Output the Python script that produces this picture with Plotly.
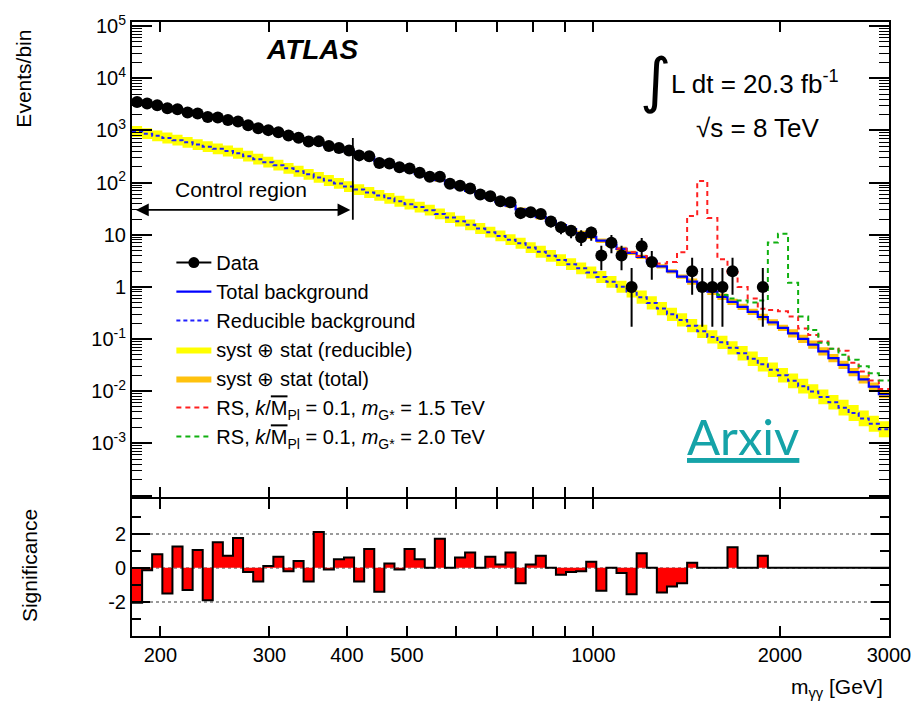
import numpy as np
import plotly.graph_objects as go

# ---------------- data ----------------
BIN_EDGES = [180.0, 186.9, 194.0, 201.5, 209.2, 217.2, 225.5, 234.1, 243.0, 252.3,
             262.0, 272.0, 282.4, 293.2, 304.4, 316.0, 328.1, 340.6, 353.6, 367.2,
             381.2, 395.8, 410.9, 426.6, 442.9, 459.8, 477.4, 495.6, 514.6, 534.3,
             554.7, 575.9, 597.9, 620.7, 644.5, 669.1, 694.7, 721.2, 748.8, 777.4,
             807.1, 838.0, 870.0, 903.3, 937.8, 973.6, 1010.8, 1049.4, 1089.6, 1131.2,
             1174.4, 1219.3, 1265.9, 1314.3, 1364.5, 1416.7, 1470.8, 1527.0, 1585.4, 1646.0,
             1708.9, 1774.2, 1842.0, 1912.4, 1985.5, 2061.4, 2140.2, 2222.0, 2306.9, 2395.1,
             2486.6, 2581.6, 2680.3, 2782.8, 2889.1, 3000.0]

DATA_COUNTS = [3507, 3295, 3057, 2663, 2562, 2213, 2118, 1805, 1780, 1595,
               1492, 1265, 1108, 1015, 922, 798, 727, 617, 618, 504,
               462, 413, 333, 321, 239, 232, 197, 186, 155, 129,
               129, 95, 87, 77, 59, 55, 44, 42, 26, 27,
               25, 18, 14, 12, 9, 11, 4, 7, 4, 1,
               6, 3, 0, 0, 0, 2, 1, 1, 1, 2,
               0, 0, 1, 0, 0, 0, 0, 0, 0, 0,
               0, 0, 0, 0, 0]

TOTAL_BKG = [3631, 3304, 3013, 2742, 2500, 2275, 2070, 1888, 1718, 1567,
             1426, 1274, 1135, 1012, 902, 804, 716, 637, 568, 506,
             451, 401, 348, 302, 262, 228, 198, 172, 149, 129,
             111, 94.8, 81.3, 69.5, 59.3, 50.4, 42.7, 36.2, 30.8, 25.9,
             21.7, 18.3, 15.3, 12.9, 10.8, 9.12, 7.69, 6.43, 5.38, 4.50,
             3.77, 3.09, 2.47, 1.98, 1.58, 1.26, 1.01, 0.809, 0.647, 0.518,
             0.415, 0.332, 0.265, 0.209, 0.164, 0.129, 0.101, 0.0785, 0.0582, 0.0432,
             0.0321, 0.0233, 0.0168, 0.0122, 0.00881]

REDUCIBLE_BKG = [955, 867, 789, 716, 652, 592, 537, 489, 444, 404,
                 366, 322, 282, 247, 216, 188, 165, 144, 126, 110,
                 96.6, 83.8, 73.6, 64.7, 56.9, 50.0, 44.0, 38.6, 34.0, 29.6,
                 25.1, 21.4, 18.2, 15.5, 13.2, 11.2, 9.51, 8.07, 6.87, 5.68,
                 4.72, 3.94, 3.27, 2.73, 2.27, 1.89, 1.55, 1.25, 1.01, 0.817,
                 0.635, 0.494, 0.385, 0.299, 0.233, 0.181, 0.141, 0.110, 0.0867, 0.0681,
                 0.0533, 0.0419, 0.0329, 0.0258, 0.0203, 0.0158, 0.0125, 0.00986, 0.00778, 0.00614,
                 0.00484, 0.00382, 0.00301, 0.00238, 0.00187]

# relative syst (+) stat uncertainty
UNC_REDUCIBLE = [0.27] * 40 + [0.30] * 10 + [0.34] * 10 + [0.38] * 10 + [0.42] * 5
UNC_TOTAL = [0.08] * 40 + [0.10] * 15 + [0.15] * 10 + [0.20] * 10

SIGNIFICANCE = [-2.05, -0.15, 0.8, -1.5, 1.25, -1.3, 1.05, -1.9, 1.5, 0.7,
                1.75, -0.25, -0.8, 0.1, 0.65, -0.2, 0.4, -0.8, 2.1, -0.1,
                0.5, 0.6, -0.8, 1.1, -1.4, 0.25, -0.1, 1.1, 0.5, 0.0,
                1.7, 0.0, 0.6, 0.9, 0.0, 0.65, 0.2, 0.9, -0.9, 0.2,
                0.7, 0.0, -0.4, -0.25, -0.2, 0.35, -1.35, 0.0, -0.3, -1.55,
                0.85, 0.0, -1.45, -1.1, -0.9, 0.3, 0.0, 0.0, 0.0, 1.2,
                0.0, 0.0, 0.7, 0.0, 0.0, 0.0, 0.0, 0.0, 0.0, 0.0,
                0.0, 0.0, 0.0, 0.0, 0.0]

# RS graviton + background, drawn from a starting bin
RS15_START = 48
RS15_PLUS_BKG = [5.4, 4.6, 3.9, 3.3, 2.8, 3.0, 4.6, 23, 107, 21,
                 3.4, 1.9, 1.0, 0.6, 0.38, 0.36, 0.34, 0.27, 0.16, 0.12,
                 0.09, 0.065, 0.06, 0.035, 0.024, 0.016, 0.011]
RS20_START = 56
RS20_PLUS_BKG = [1.05, 0.85, 0.7, 0.6, 0.55, 0.5, 0.55, 7.1, 10.5, 1.2,
                 0.27, 0.15, 0.085, 0.065, 0.05, 0.04, 0.03, 0.022, 0.016]

CR_LOW, CR_HIGH = 180.0, 409.0
X_TICKS = [200, 300, 400, 500, 600, 700, 800, 900, 1000, 2000, 3000]
X_TICK_LABELS = ["200", "300", "400", "500", "", "", "", "", "1000", "2000", "3000"]
Y_TICKS = [1e-4, 1e-3, 1e-2, 1e-1, 1, 10, 1e2, 1e3, 1e4, 1e5]
Y_TICK_LABELS = ["", "10<sup>-3</sup>", "10<sup>-2</sup>", "10<sup>-1</sup>", "1", "10",
                 "10<sup>2</sup>", "10<sup>3</sup>", "10<sup>4</sup>", "10<sup>5</sup>"]

# Garwood 68% intervals for small counts
GARWOOD = {1: (0.173, 2.30), 2: (0.708, 3.64), 3: (1.37, 4.91), 4: (2.09, 6.17),
           5: (2.84, 7.41), 6: (3.62, 8.64), 7: (4.42, 9.86), 8: (5.23, 11.06),
           9: (6.06, 12.26), 10: (6.89, 13.45)}

# ---------------- derived ----------------
edges = np.array(BIN_EDGES)
centers = np.sqrt(edges[:-1] * edges[1:])


def step_y(vals):
    v = list(vals)
    return v + [v[-1]]


tot = np.array(TOTAL_BKG)
red = np.array(REDUCIBLE_BKG)
ur = np.array(UNC_REDUCIBLE)
ut = np.array(UNC_TOTAL)

FONT = "Liberation Sans, Arial, Helvetica, sans-serif"
fig = go.Figure()

# yellow band (reducible)
fig.add_trace(go.Scatter(x=edges, y=step_y(red * (1 + ur)), mode="lines", line=dict(width=0, shape="hv"),
                         showlegend=False, hoverinfo="skip", xaxis="x", yaxis="y"))
fig.add_trace(go.Scatter(x=edges, y=step_y(red / (1 + ur)), mode="lines", line=dict(width=0, shape="hv"),
                         fill="tonexty", fillcolor="#ffff00", name="syst \u2295 stat (reducible)",
                         legendrank=4, xaxis="x", yaxis="y"))
# orange band (total)
fig.add_trace(go.Scatter(x=edges, y=step_y(tot * (1 + ut)), mode="lines", line=dict(width=0, shape="hv"),
                         showlegend=False, hoverinfo="skip", xaxis="x", yaxis="y"))
fig.add_trace(go.Scatter(x=edges, y=step_y(tot / (1 + ut)), mode="lines", line=dict(width=0, shape="hv"),
                         fill="tonexty", fillcolor="#ffc20e", name="syst \u2295 stat (total)",
                         legendrank=5, xaxis="x", yaxis="y"))
# reducible background
fig.add_trace(go.Scatter(x=edges, y=step_y(red), mode="lines",
                         line=dict(color="#2020ff", width=2, dash="4px,3px", shape="hv"),
                         name="Reducible background", legendrank=3, xaxis="x", yaxis="y"))
# total background
fig.add_trace(go.Scatter(x=edges, y=step_y(tot), mode="lines",
                         line=dict(color="#0000ff", width=2.2, shape="hv"),
                         name="Total background", legendrank=2, xaxis="x", yaxis="y"))
# RS signals
rs_lab = ("RS, <i>k</i>/<span style='text-decoration:overline'>M</span><sub>Pl</sub> = 0.1, "
          "<i>m</i><sub>G*</sub> = {} TeV")
fig.add_trace(go.Scatter(x=edges[RS15_START:], y=step_y(RS15_PLUS_BKG), mode="lines",
                         line=dict(color="#ff2020", width=2, dash="5px,4px", shape="hv"),
                         name=rs_lab.format("1.5"), legendrank=6, xaxis="x", yaxis="y"))
fig.add_trace(go.Scatter(x=edges[RS20_START:], y=step_y(RS20_PLUS_BKG), mode="lines",
                         line=dict(color="#10b010", width=2, dash="5px,4px", shape="hv"),
                         name=rs_lab.format("2.0"), legendrank=7, xaxis="x", yaxis="y"))

# data
dc = np.array(DATA_COUNTS)
mask = dc > 0
xd = centers[mask]
yd = dc[mask]
elo, ehi = [], []
for n in yd:
    if n in GARWOOD:
        lo, hi = GARWOOD[int(n)]
        elo.append(n - lo)
        ehi.append(hi - n)
    else:
        elo.append(np.sqrt(n))
        ehi.append(np.sqrt(n))
fig.add_trace(go.Scatter(x=xd, y=yd, mode="markers",
                         marker=dict(color="black", size=12, symbol="circle"),
                         error_y=dict(type="data", symmetric=False, array=ehi, arrayminus=elo,
                                      color="black", thickness=2, width=0),
                         showlegend=False, xaxis="x", yaxis="y"))
fig.add_trace(go.Scatter(x=[None], y=[None], mode="lines+markers",
                         line=dict(color="black", width=2), marker=dict(color="black", size=11),
                         name="Data", legendrank=1, xaxis="x", yaxis="y"))

# control region line
fig.add_trace(go.Scatter(x=[CR_HIGH, CR_HIGH], y=[19.5, 720], mode="lines",
                         line=dict(color="black", width=1.8), showlegend=False,
                         hoverinfo="skip", xaxis="x", yaxis="y"))

# significance
fig.add_trace(go.Scatter(x=edges, y=step_y(SIGNIFICANCE), mode="lines",
                         line=dict(color="black", width=2, shape="hv"),
                         fill="tozeroy", fillcolor="#ff0000", showlegend=False,
                         xaxis="x2", yaxis="y2"))

minor_y = [m * 10.0 ** k for k in range(-4, 5) for m in range(2, 10)]
axis_common = dict(showline=True, linecolor="black", linewidth=2, mirror="allticks",
                   ticks="inside", tickcolor="black", showgrid=False, zeroline=False)

fig.update_layout(
    width=923, height=704,
    margin=dict(l=132, r=26, t=15, b=68),
    paper_bgcolor="white", plot_bgcolor="white",
    font=dict(family=FONT, size=20, color="black"),
    xaxis=dict(domain=[0, 1], anchor="y", type="log",
               range=[np.log10(180), np.log10(3000)],
               tickmode="array", tickvals=X_TICKS, showticklabels=False,
               ticklen=10, tickwidth=1.5, matches="x2", **axis_common),
    yaxis=dict(domain=[0.2271, 1], anchor="x", type="log", range=[-4.02, 5.08],
               tickmode="array", tickvals=Y_TICKS, ticktext=Y_TICK_LABELS,
               ticklen=20, tickwidth=1.5,
               minor=dict(ticks="inside", ticklen=10, tickvals=minor_y, tickcolor="black", tickwidth=1),
               tickfont=dict(size=20), **axis_common),
    xaxis2=dict(domain=[0, 1], anchor="y2", type="log",
                range=[np.log10(180), np.log10(3000)],
                tickmode="array", tickvals=X_TICKS, ticktext=X_TICK_LABELS,
                ticklen=10, tickwidth=1.5, tickfont=dict(size=20), **axis_common),
    yaxis2=dict(domain=[0, 0.2238], anchor="x2", range=[-4.0, 4.06],
                tickmode="array", tickvals=[-2, 0, 2], ticktext=["-2", "0", "2"],
                ticklen=18, tickwidth=1.5, tickfont=dict(size=20),
                minor=dict(ticks="inside", ticklen=9, tickvals=[-3, -1, 1, 3], tickcolor="black"),
                showline=True, linecolor="black", linewidth=2, mirror="allticks",
                ticks="inside", tickcolor="black", zeroline=False,
                showgrid=True, gridcolor="#9a9a9a", griddash="dot", gridwidth=1.5),
    legend=dict(x=0.052, y=0.64, xanchor="left", yanchor="top", traceorder="normal",
                bgcolor="rgba(0,0,0,0)", font=dict(size=20, family=FONT),
                tracegroupgap=0, itemwidth=35),
)


def label(text, x, y, size, xanchor="center", **kw):
    d = dict(text=text, x=x, y=y, xref="paper", yref="paper", xanchor=xanchor,
             yanchor="middle", showarrow=False, font=dict(size=size))
    d.update(kw)
    return d


ann = [
    label("Events/bin", -0.1438, 0.908, 21, textangle=-90),
    label("Significance", -0.136, 0.114, 21, textangle=-90),
    label("m<sub>\u03b3\u03b3</sub> [GeV]", 0.995, -0.084, 21, xanchor="right"),
    label("<b><i>ATLAS</i></b>", 0.239, 0.955, 28),
    label("\u222b", 0.692, 0.905, 60, font=dict(size=60, family="DejaVu Sans")),
    label("L dt = 20.3 fb<sup>-1</sup>", 0.71, 0.902, 26, xanchor="left"),
    label("\u221as = 8 TeV", 0.742, 0.828, 26, xanchor="left"),
    label("Control region", 0.0536, 0.727, 21, xanchor="left"),
    label("<span style='text-decoration:underline'>Arxiv</span>", 0.8065, 0.326, 49,
          font=dict(size=49, family="Lato", color="#15a3a8")),
    dict(text="", x=np.log10(CR_HIGH) - 0.004, y=np.log10(30), xref="x", yref="y",
         ax=np.log10(CR_LOW) + 0.004, ay=np.log10(30), axref="x", ayref="y",
         showarrow=True, arrowside="end+start", arrowhead=2, arrowsize=1.6,
         arrowwidth=1.6, arrowcolor="black"),
]
fig.update_layout(annotations=ann)

fig.write_html("out.html")
